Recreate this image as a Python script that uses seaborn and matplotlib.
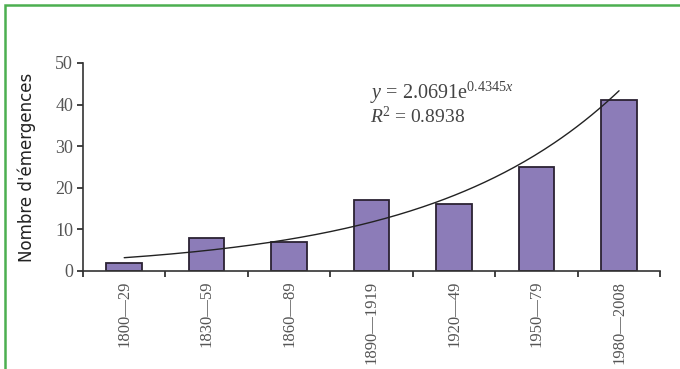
import numpy as np
import pandas as pd
import matplotlib
matplotlib.use("Agg")
import matplotlib.pyplot as plt
from matplotlib.patches import Rectangle
import seaborn as sns

# Données
periodes = ["1800—29", "1830—59", "1860—89", "1890—1919", "1920—49", "1950—79", "1980—2008"]
emergences = [2, 8, 7, 17, 16, 25, 41]
# Courbe de tendance exponentielle affichée sur le graphique
coef_a = 2.0691
coef_b = 0.4345
r2 = 0.8938

df = pd.DataFrame({"periode": periodes, "n": emergences})

sns.set_style("ticks")
plt.rcParams["font.family"] = ["Liberation Serif", "DejaVu Serif"]
plt.rcParams["mathtext.fontset"] = "custom"
plt.rcParams["mathtext.rm"] = "Liberation Serif"
plt.rcParams["mathtext.it"] = "Liberation Serif:italic"

fig = plt.figure(figsize=(6.8, 3.69), dpi=100)
ax = fig.add_axes([0.122, 0.2656, 0.849, 0.5637])

sns.barplot(data=df, x="periode", y="n", ax=ax, color="#8c7cb8",
            edgecolor="#2b2233", linewidth=1.3, width=0.43, saturation=1)

# Courbe de tendance : y = a * exp(b * x), x = 1..7
xs = np.linspace(1, 7, 200)
ax.plot(xs - 1, coef_a * np.exp(coef_b * xs), color="#222222", linewidth=1.0)

ax.text(2.98, 46, "$y$ = %.4fe$^{%.4fx}$" % (coef_a, coef_b), fontsize=14.5,
        color="#444444", va="top")
ax.text(2.98, 39.8, "$R$$^{2}$ = %.4f" % r2, fontsize=14, color="#444444", va="top")

ax.set_xlim(-0.5, 6.5)
ax.set_ylim(0, 50)
ax.set_yticks(range(0, 51, 10))
ax.set_xticks(np.arange(7))
ax.set_xticklabels(periodes, rotation=90, fontsize=12, color="#555555")
ax.tick_params(axis="x", length=0, pad=7)
ax.set_xticks(np.arange(-0.5, 7, 1), minor=True)
ax.tick_params(axis="x", which="minor", length=4, width=1.2, direction="out", color="#222222")
ax.tick_params(axis="y", length=4, width=1.2, direction="out", color="#222222",
               labelsize=13, labelcolor="#555555", pad=3)
for s in ["left", "bottom"]:
    ax.spines[s].set_color("#333333")
    ax.spines[s].set_linewidth(1.2)
sns.despine(ax=ax)

ax.set_xlabel("")
ax.set_ylabel("Nombre d'émergences", fontsize=12, family=["DejaVu Sans"],
              color="#222222", labelpad=14)

# Cadre vert
fig.patches.append(Rectangle((5 / 680, -0.1), 1.2, 1 - 5 / 369 + 0.1,
                             transform=fig.transFigure, fill=False,
                             edgecolor="#4caf50", linewidth=1.8))

fig.savefig("out.png", dpi=100)
